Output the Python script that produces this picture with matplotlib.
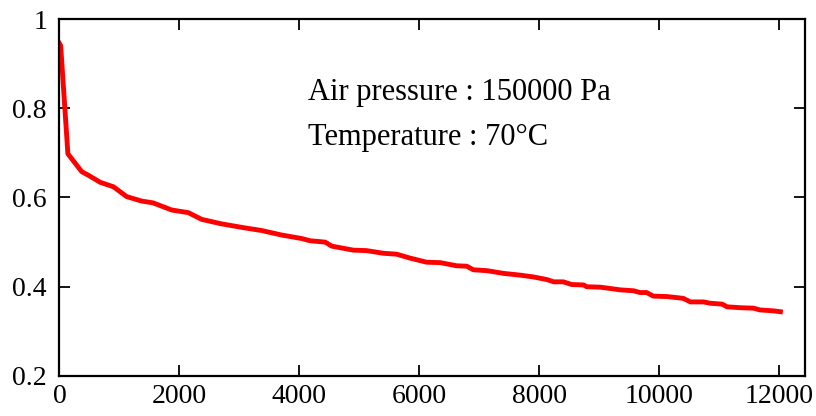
import matplotlib
matplotlib.use("Agg")
import matplotlib.pyplot as plt

# values
time_s = [0, 20, 140, 370, 480, 680, 900, 1120, 1370, 1560, 1870, 2150, 2370,
          2700, 3040, 3370, 3700, 4040, 4180, 4430, 4540, 4900, 5120, 5400,
          5620, 5850, 6120, 6350, 6620, 6790, 6900, 7130, 7400, 7680, 7900,
          8130, 8240, 8400, 8540, 8740, 8790, 9020, 9350, 9570, 9680, 9790,
          9900, 10130, 10400, 10520, 10740, 10850, 11050, 11130, 11350, 11570,
          11680, 11900, 12020]
ratio = [0.945, 0.94, 0.698, 0.658, 0.650, 0.634, 0.624, 0.602, 0.592, 0.588,
         0.572, 0.566, 0.551, 0.541, 0.533, 0.526, 0.516, 0.508, 0.503, 0.500,
         0.491, 0.482, 0.481, 0.475, 0.473, 0.464, 0.455, 0.454, 0.447, 0.446,
         0.438, 0.436, 0.430, 0.426, 0.422, 0.416, 0.411, 0.411, 0.405, 0.404,
         0.400, 0.399, 0.393, 0.391, 0.387, 0.387, 0.379, 0.378, 0.374, 0.366,
         0.366, 0.363, 0.361, 0.355, 0.353, 0.352, 0.348, 0.346, 0.344]

x_ticks = [0, 2000, 4000, 6000, 8000, 10000, 12000]
y_ticks = [0.2, 0.4, 0.6, 0.8, 1.0]
y_labels = ["0.2", "0.4", "0.6", "0.8", "1"]
notes = ["Air pressure : 150000 Pa", "Temperature : 70\u00b0C"]

plt.rcParams["font.family"] = ["Liberation Serif", "DejaVu Serif"]

fig = plt.figure(figsize=(8.16, 4.16), dpi=100)
ax = fig.add_axes([0.0729, 0.0962, 0.9136, 0.8581])

ax.plot(time_s, ratio, color="#ff0000", lw=3.5, solid_joinstyle="round")

ax.set_xlim(0, 12430)
ax.set_ylim(0.2, 1.0)
ax.set_xticks(x_ticks)
ax.set_yticks(y_ticks)
ax.set_yticklabels(y_labels)
ax.tick_params(direction="in", length=8, width=1.3, top=True, right=True,
               labelsize=20)
ax.tick_params(axis="x", pad=6)
ax.tick_params(axis="y", pad=9)
for sp in ax.spines.values():
    sp.set_linewidth(1.6)

ax.text(4145, 0.8185, notes[0], fontsize=22, va="baseline")
ax.text(4145, 0.7176, notes[1], fontsize=22, va="baseline")

fig.savefig("out.png", dpi=100)
